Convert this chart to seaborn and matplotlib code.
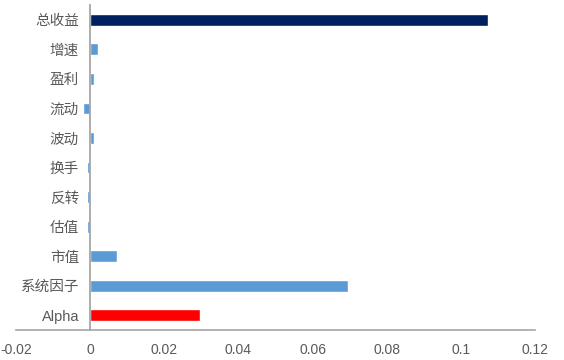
import matplotlib
matplotlib.use("Agg")
import matplotlib.pyplot as plt
import seaborn as sns
import pandas as pd

categories = ["总收益", "增速", "盈利", "流动", "波动", "换手", "反转", "估值", "市值", "系统因子", "Alpha"]
values = [0.1073, 0.0022, 0.001, -0.0019, 0.001, -0.0008, -0.0008, -0.0008, 0.0073, 0.0695, 0.0296]
colors = ["#002060", "#5B9BD5", "#5B9BD5", "#5B9BD5", "#5B9BD5", "#5B9BD5", "#5B9BD5", "#5B9BD5", "#5B9BD5", "#5B9BD5", "#FF0000"]
xticks = [-0.02, 0, 0.02, 0.04, 0.06, 0.08, 0.1, 0.12]
xticklabels = ["-0.02", "0", "0.02", "0.04", "0.06", "0.08", "0.1", "0.12"]

sns.set_theme(style="white")
plt.rcParams['font.family'] = ['Noto Sans CJK SC', 'DejaVu Sans']

df = pd.DataFrame({"cat": categories, "val": values})

fig = plt.figure(figsize=(5.64, 3.6), dpi=100)
ax = fig.add_axes([16/564, 1 - 330/360, (535 - 16)/564, (330 - 5)/360])

sns.barplot(data=df, x="val", y="cat", hue="cat", palette=colors, order=categories,
            hue_order=categories, orient="h", width=0.4, legend=False, ax=ax, saturation=1)

ax.set_xlim(-0.02, 0.12)
ax.set_ylim(len(categories) - 0.5, -0.5)
ax.set_xlabel("")
ax.set_ylabel("")

ax.spines["top"].set_visible(False)
ax.spines["right"].set_visible(False)
ax.spines["left"].set_position(("data", 0))
ax.spines["left"].set_color("#A6A6A6")
ax.spines["bottom"].set_color("#A6A6A6")
ax.spines["left"].set_linewidth(1.3)
ax.spines["bottom"].set_linewidth(1.2)

ax.set_xticks(xticks)
ax.set_xticklabels(xticklabels, fontsize=10, color="#595959", family=["Liberation Sans", "DejaVu Sans"])
ax.tick_params(axis="x", length=0, pad=9)
ax.tick_params(axis="y", length=0, pad=8, labelsize=10.5, labelcolor="#595959")
for lab in ax.get_yticklabels():
    if lab.get_text() == "Alpha":
        lab.set_family(["Liberation Sans", "DejaVu Sans"])
        lab.set_fontsize(10.5)

fig.savefig("out.png", dpi=100)
